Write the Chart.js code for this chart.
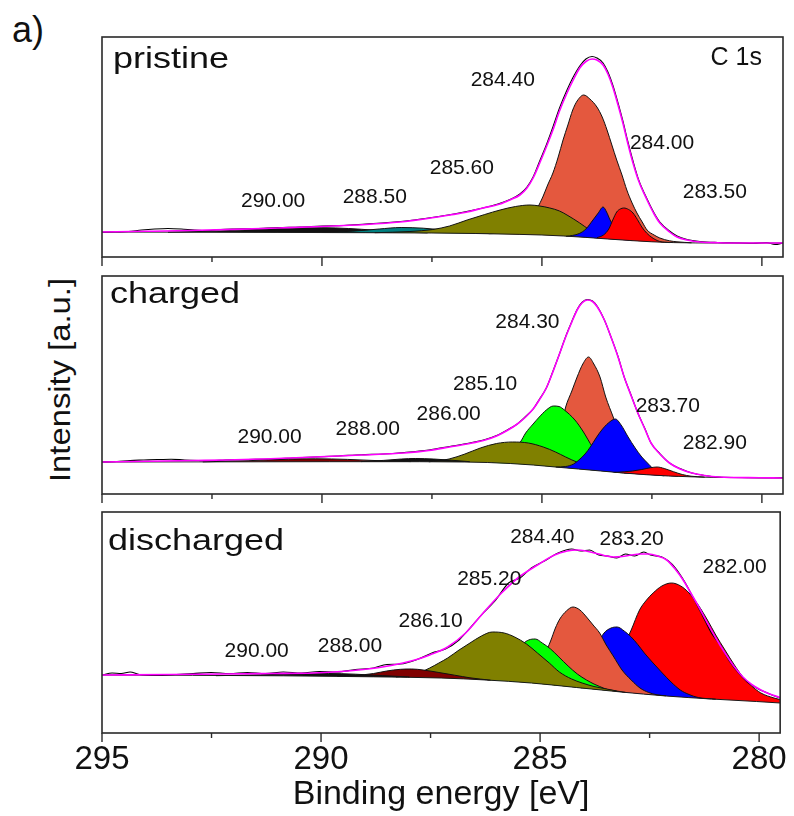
<!DOCTYPE html>
<html>
<head>
<meta charset="utf-8">
<title>C 1s XPS</title>
<script src="https://cdn.jsdelivr.net/npm/chart.js@4.4.1/dist/chart.umd.min.js"></script>
<style>
  body { margin: 0; background: #fff; }
  #wrap { position: relative; width: 794px; height: 816px; font-family: "Liberation Sans", Arial, sans-serif; color: #111; }
  canvas { position: absolute; left: 0; }
  .txt { position: absolute; white-space: nowrap; line-height: 1; }
  #tag { left: 12px; top: 12px; font-size: 36px; }
  #ylab { left: 60px; top: 380px; font-size: 29px; transform: translate(-50%, -50%) rotate(-90deg) scaleX(1.13); }
</style>
</head>
<body>
<div id="wrap">
  <div class="txt" id="tag">a)</div>
  <div class="txt" id="ylab">Intensity [a.u.]</div>
  <canvas id="c1" width="794" height="268" style="top:0px"></canvas>
  <canvas id="c2" width="794" height="236" style="top:268px"></canvas>
  <canvas id="c3" width="794" height="312" style="top:504px"></canvas>
</div>
<script>
// binding energy axis
const energyMin = 279.52;
const energyMax = 295;
const tickValues = [295, 292.5, 290, 287.5, 285, 282.5, 280];

// ---------- pristine: [binding energy eV, intensity a.u.] ----------
const pristineBackground = [[295, 25], [291, 24.6], [289, 24.3], [287.5, 24], [286.5, 23.5], [285.5, 22.6], [285, 22], [284.5, 21], [284, 19.6], [283.5, 18], [283, 16.5], [282.5, 15.2], [282, 14.4], [281, 14], [279.52, 14]];
const pristineRaw = [[295, 24.5], [294.7, 25], [294.4, 25.5], [294.1, 27], [293.8, 28], [293.5, 28.5], [293.2, 28], [292.9, 27], [292.6, 26.5], [292.3, 27.5], [292, 28], [291.5, 28.5], [291, 29.5], [290.5, 30], [290, 31], [289.5, 31.5], [289, 33], [288.5, 34.5], [288, 36.5], [287.5, 39.5], [287, 43], [286.5, 47.5], [286, 53], [285.7, 58], [285.5, 63], [285.34, 70], [285.2, 80], [285.05, 96], [284.9, 112], [284.75, 130], [284.6, 149], [284.43, 167], [284.3, 179], [284.14, 191], [284, 198], [283.86, 200.5], [283.75, 199], [283.61, 194], [283.5, 185], [283.39, 172], [283.27, 154], [283.16, 136], [283.05, 116], [282.93, 96], [282.8, 77], [282.61, 58], [282.45, 44], [282.32, 35], [282.1, 26], [281.93, 21], [281.7, 17.5], [281.41, 15.5], [281, 14.5], [280.5, 14], [280.2, 13.5], [279.9, 14.5], [279.7, 12.5], [279.52, 14]];
const pristineFit = [[295, 25], [294, 25.7], [293, 26.5], [292, 27.6], [291, 29], [290, 30.5], [289, 32.5], [288.23, 35], [287.6, 38.5], [287.09, 42], [286.7, 45], [286.34, 49], [285.95, 53], [285.73, 57], [285.5, 62], [285.34, 69], [285.2, 79], [285.05, 94], [284.9, 110], [284.75, 127], [284.6, 146], [284.43, 164], [284.3, 176], [284.14, 189], [284, 195.5], [283.86, 198], [283.75, 197], [283.61, 192], [283.5, 183], [283.39, 170], [283.27, 152], [283.16, 134], [283.05, 114], [282.93, 94], [282.8, 76], [282.61, 57], [282.45, 43], [282.32, 34], [282.1, 25], [281.93, 20], [281.7, 17], [281.41, 15], [281, 14.3], [280, 14], [279.52, 14]];
const pristine2900 = [[293.5, 24.8], [292.5, 25.8], [291.5, 27.5], [290.6, 29], [290, 29.3], [289.4, 28.5], [288.8, 26.8], [288.2, 25], [287.6, 24.1]];
const pristine2885 = [[290, 24.5], [289.3, 25.8], [288.7, 28], [288.2, 29.5], [287.7, 28.8], [287.2, 26.8], [286.6, 24.5], [286.2, 23.4]];
const pristine2856 = [[288.8, 24.3], [288, 25.5], [287.48, 27.5], [287.1, 31], [286.7, 37], [286.3, 42.5], [285.95, 47], [285.6, 50.5], [285.27, 52], [285.05, 51], [284.82, 49], [284.6, 46], [284.43, 42], [284.14, 34], [283.91, 27], [283.7, 22.5], [283.52, 19.5], [283.3, 17.6]];
const pristine2844 = [[286.2, 23.3], [285.73, 24.5], [285.5, 27], [285.34, 32], [285.2, 41], [285.09, 50], [284.98, 60], [284.87, 72], [284.75, 84], [284.63, 100], [284.52, 117], [284.41, 132], [284.3, 147], [284.2, 156], [284.05, 162], [283.91, 158], [283.75, 150], [283.63, 140], [283.52, 127], [283.41, 112], [283.3, 97], [283.18, 82], [283.07, 67], [282.95, 54], [282.84, 44], [282.72, 35], [282.61, 27], [282.45, 22], [282.32, 19], [282.1, 16.2], [281.93, 15.2], [281.6, 14.2]];
const pristine2840 = [[284.45, 20.7], [284.3, 21.6], [284.15, 23.5], [284, 28], [283.84, 37], [283.72, 44], [283.61, 50], [283.53, 45], [283.45, 37], [283.36, 30], [283.27, 24], [283.1, 18.5], [282.95, 16.3]];
const pristine2835 = [[283.75, 19.3], [283.6, 22], [283.48, 28], [283.39, 37], [283.3, 45], [283.22, 48], [283.14, 49], [283.03, 47.5], [282.93, 44], [282.83, 37.5], [282.73, 30], [282.62, 24], [282.5, 19.5], [282.32, 15.5], [282.1, 14.4]];
const pristineLabels = ['290.00', '288.50', '285.60', '284.40', '284.00', '283.50'];

// ---------- charged ----------
const chargedBackground = [[295, 32], [289.83, 32.3], [287.78, 32.3], [286.75, 32], [286.23, 31.5], [285.72, 30.5], [285.2, 29], [284.69, 27], [284.17, 25], [283.66, 23], [283.15, 21], [282.63, 19.3], [282.12, 18], [281.61, 17.2], [281.09, 16.6], [279.52, 16]];
const chargedRaw = [[295, 32], [294.66, 32.5], [294.36, 33.5], [294.05, 34], [293.74, 34.5], [293.43, 34.8], [293.12, 34], [292.81, 33.5], [292.51, 33.2], [292.2, 34], [291.68, 34.5], [291.17, 35], [290.66, 36], [290.16, 37], [289.63, 38], [289.11, 39.3], [288.6, 40], [288.13, 41.5], [287.57, 44], [287.1, 47.5], [286.64, 51], [286.29, 54.5], [286.03, 58.5], [285.77, 64.5], [285.56, 70], [285.37, 77.5], [285.2, 85], [285.06, 94.5], [284.9, 106], [284.76, 121.5], [284.61, 139], [284.46, 157.5], [284.32, 172.5], [284.2, 184.5], [284.09, 191.5], [283.97, 194.5], [283.85, 193], [283.74, 187.5], [283.58, 174], [283.43, 157], [283.27, 137.5], [283.13, 117], [282.97, 98.5], [282.82, 81], [282.66, 65.5], [282.52, 51], [282.32, 40.5], [282.1, 31], [281.86, 25.5], [281.59, 21], [281.3, 18.5], [280.98, 17], [280.47, 16.5], [280.06, 16.3], [279.52, 16.2]];
const chargedFit = [[295, 32], [293.95, 32.8], [292.92, 33.5], [292.18, 34], [291.17, 35.3], [290.16, 37], [289.11, 39], [288.13, 41], [287.57, 43.5], [287.1, 47], [286.64, 50.5], [286.29, 54], [286.03, 58], [285.77, 64], [285.56, 70], [285.37, 77], [285.2, 85], [285.06, 94], [284.9, 106], [284.76, 121], [284.61, 139], [284.46, 157], [284.32, 172], [284.2, 184], [284.09, 191], [283.97, 194], [283.85, 192.5], [283.74, 187], [283.58, 174], [283.43, 157], [283.27, 137], [283.13, 117], [282.97, 98], [282.82, 81], [282.66, 65], [282.52, 51], [282.32, 40], [282.1, 31], [281.86, 25], [281.59, 21], [281.3, 18.5], [280.98, 17], [280.06, 16.3], [279.52, 16]];
const charged2900 = [[292.71, 32.1], [291.68, 33.3], [290.76, 34.8], [290.14, 35.2], [289.42, 34.6], [288.7, 33.3], [287.98, 32.4]];
const charged2880 = [[289.11, 32.4], [288.6, 33.6], [288.19, 35], [287.88, 35.5], [287.47, 35], [287.06, 33.8], [286.64, 32.3]];
const charged2860 = [[287.57, 32.2], [287.11, 35], [286.75, 40], [286.4, 46], [286.03, 50.5], [285.67, 52], [285.31, 51], [284.97, 47], [284.69, 42], [284.46, 37], [284.18, 31.5], [283.85, 27], [283.56, 23.5], [283.24, 21.5], [282.94, 20.5]];
const charged2851 = [[286.13, 31.6], [285.93, 34], [285.79, 39], [285.62, 46], [285.49, 52], [285.37, 61], [285.2, 70], [285.06, 77], [284.9, 84], [284.74, 88], [284.61, 87.5], [284.49, 84], [284.25, 74], [284.07, 63], [283.85, 47], [283.64, 36], [283.43, 27], [283.25, 23], [283.1, 21]];
const charged2843 = [[285.41, 29.8], [285.1, 31.5], [284.9, 36], [284.67, 52], [284.56, 68], [284.46, 87], [284.32, 103], [284.2, 117], [284.07, 130], [283.94, 137], [283.82, 130], [283.68, 117], [283.55, 97], [283.38, 77], [283.25, 61], [283.13, 47], [282.97, 35], [282.82, 27], [282.63, 22], [282.52, 20], [282.22, 18.2]];
const charged2837 = [[284.69, 27], [284.46, 27.5], [284.28, 30], [284.16, 34], [284.02, 40], [283.9, 47], [283.77, 56], [283.64, 64], [283.49, 71], [283.33, 75], [283.2, 69], [283.04, 57], [282.88, 46], [282.73, 37], [282.6, 31], [282.49, 26], [282.35, 22], [282.21, 19.5], [281.91, 17.7]];
const charged2829 = [[283.35, 21.6], [283.13, 22.2], [282.94, 23], [282.73, 24.5], [282.53, 26.3], [282.38, 27], [282.22, 25.5], [282.01, 22.3], [281.81, 19.5], [281.61, 17.8], [281.3, 16.9]];
const chargedLabels = ['290.00', '288.00', '286.00', '285.10', '284.30', '283.70', '282.90'];

// ---------- discharged ----------
const dischargedBackground = [[295, 58], [290.86, 57.2], [288.8, 56.2], [287.26, 55], [286.23, 53], [285.2, 50], [284.17, 45.5], [283.15, 41], [282.12, 37], [281.09, 34], [280.06, 31.5], [279.52, 30]];
const dischargedRaw = [[295, 58], [294.77, 60], [294.56, 59.5], [294.36, 61], [294.15, 58.5], [293.74, 57.5], [293.33, 58.5], [292.92, 59.5], [292.51, 60.5], [292.09, 59.5], [291.68, 60.5], [291.27, 59.5], [290.86, 61], [290.45, 60], [290.04, 61.5], [289.63, 61], [289.22, 63.5], [288.8, 65], [288.5, 68.5], [288.19, 69], [287.78, 74], [287.47, 80], [287.16, 84], [286.85, 93], [286.64, 103], [286.34, 118], [286.03, 132], [285.72, 150], [285.46, 155], [285.2, 165], [284.9, 172], [284.59, 180], [284.28, 184], [284.07, 182], [283.87, 183], [283.66, 178], [283.46, 177], [283.25, 175], [283.05, 179], [282.84, 177], [282.63, 181], [282.48, 178], [282.22, 176], [282.07, 172], [281.91, 165], [281.71, 152], [281.5, 135], [281.3, 118], [281.09, 100], [280.89, 88], [280.68, 72], [280.47, 60], [280.27, 51], [280.06, 45], [279.76, 39], [279.52, 35]];
const dischargedFit = [[295, 58], [293.43, 58.5], [292.2, 59], [291.17, 59.5], [290.17, 60], [289.63, 61.2], [289.15, 63], [288.6, 66], [288.13, 70], [287.78, 74], [287.52, 78], [287.11, 86], [286.7, 100], [286.3, 120], [285.88, 140], [285.48, 156], [285.06, 168], [284.67, 178], [284.38, 182], [284.16, 183], [283.95, 182], [283.75, 180], [283.54, 177.5], [283.33, 176], [283.13, 176.5], [282.92, 178], [282.72, 179], [282.52, 179], [282.32, 177], [282.11, 173], [281.9, 163], [281.75, 154], [281.6, 143], [281.39, 127], [281.18, 110], [280.99, 95], [280.78, 80], [280.58, 67], [280.37, 56], [280.17, 48.5], [279.96, 43], [279.76, 39], [279.52, 35.5]];
const discharged2900 = [[292.4, 57.3], [291.38, 58.2], [290.45, 59.2], [289.83, 59.5], [289.22, 58.8], [288.6, 57.4], [287.98, 56]];
const discharged2880 = [[289.63, 56.6], [289.22, 57.5], [288.8, 59.5], [288.5, 62], [288.19, 63.7], [287.93, 64], [287.67, 63], [287.31, 60.5], [286.95, 57.8], [286.6, 55.2], [286.13, 52.8]];
const discharged2861 = [[288.29, 56], [287.93, 58], [287.72, 61], [287.52, 65], [287.31, 70], [287.11, 75], [286.85, 83], [286.6, 90], [286.34, 97], [286.09, 101], [285.82, 100], [285.58, 96], [285.31, 89], [285.06, 80], [284.79, 70], [284.56, 61], [284.28, 54], [284.04, 50], [283.77, 46.5], [283.54, 44.5], [283.25, 42], [283.05, 40.6]];
const discharged2852 = [[286.18, 53.2], [285.93, 57], [285.72, 63], [285.56, 77], [285.39, 89], [285.26, 93], [285.11, 94], [284.95, 90], [284.76, 84], [284.57, 76], [284.36, 67], [284.15, 59], [283.94, 53], [283.77, 49], [283.64, 46.5], [283.46, 43.5], [283.25, 42]];
const discharged2844 = [[285.62, 51.5], [285.41, 54], [285.2, 59], [285.06, 66], [284.9, 78], [284.76, 92], [284.65, 105], [284.55, 114], [284.4, 122], [284.25, 126], [284.09, 123], [283.94, 116], [283.79, 108], [283.64, 100], [283.49, 88], [283.33, 77], [283.13, 63], [282.92, 53], [282.72, 45], [282.52, 40.5], [282.33, 38.2], [282.12, 37.2]];
const discharged2832 = [[284.69, 48], [284.43, 48.5], [284.25, 50.5], [284.05, 60], [283.85, 76], [283.69, 89], [283.54, 100], [283.38, 105], [283.24, 106], [283.08, 102], [282.92, 96], [282.77, 88.5], [282.62, 80], [282.42, 70], [282.21, 60], [282.01, 51], [281.8, 43], [281.6, 38.5], [281.39, 35.5], [280.99, 33.8]];
const discharged2820 = [[284.07, 45], [283.87, 47], [283.64, 52], [283.44, 62], [283.24, 74], [283.08, 88], [282.92, 103], [282.73, 123], [282.57, 133], [282.42, 140], [282.22, 147], [282, 150], [281.79, 147], [281.6, 140], [281.39, 128], [281.18, 113], [280.99, 98], [280.78, 83], [280.58, 69], [280.37, 56], [280.17, 47], [279.96, 40], [279.66, 35], [279.52, 33.4]];
const dischargedLabels = ['290.00', '288.00', '286.10', '285.20', '284.40', '283.20', '282.00'];

// where the peak labels sit (energy, intensity) -- layout only
const pristineLabelSpots = [[291.11, 56], [288.8, 60], [286.82, 89], [285.89, 177], [282.27, 114], [281.07, 65]];
const chargedLabelSpots = [[291.19, 57], [288.96, 65], [287.12, 80], [286.29, 110], [285.33, 172], [282.14, 88], [281.07, 51]];
const dischargedLabelSpots = [[291.47, 82], [289.34, 87], [287.5, 112], [286.16, 154], [284.95, 196], [282.91, 194], [280.56, 166]];

const family = '"Liberation Sans", Arial, Helvetica, sans-serif';

function makeSet(pairs, style) {
  return Object.assign({
    data: pairs.map(p => ({ x: p[0], y: p[1] })),
    showLine: true,
    pointRadius: 0,
    borderWidth: 1,
    borderColor: '#111',
    cubicInterpolationMode: 'monotone',
    fill: false
  }, style);
}

// box around plot + outward ticks (long at 5 eV, short between)
const framePlugin = {
  id: 'frame',
  afterDatasetsDraw(chart) {
    const { ctx, chartArea: a } = chart;
    const x = chart.scales.x;
    ctx.save();
    ctx.strokeStyle = '#2a2a2a';
    ctx.lineWidth = 1.6;
    ctx.strokeRect(a.left, a.top, a.right - a.left, a.bottom - a.top);
    ctx.lineWidth = 1.4;
    tickValues.forEach(v => {
      const px = x.getPixelForValue(v);
      const len = v % 5 === 0 ? 9 : 5;
      ctx.beginPath();
      ctx.moveTo(px, a.bottom);
      ctx.lineTo(px, a.bottom + len);
      ctx.stroke();
    });
    ctx.restore();
  }
};

function textPlugin(p) {
  return {
    id: 'panelText',
    afterDraw(chart) {
      const { ctx, chartArea: a } = chart;
      const x = chart.scales.x, y = chart.scales.y;
      ctx.save();
      ctx.fillStyle = '#111';
      ctx.textAlign = 'left';
      ctx.textBaseline = 'alphabetic';
      // panel name, a little wide like the source figure
      ctx.save();
      ctx.translate(a.left + p.nameDx, a.top + p.nameDy);
      ctx.scale(1.2, 1);
      ctx.font = '30px ' + family;
      ctx.fillText(p.name, 0, 0);
      ctx.restore();
      if (p.corner) {
        ctx.font = '25px ' + family;
        ctx.textAlign = 'right';
        ctx.fillText(p.corner, a.right - 21, a.top + 28);
      }
      ctx.font = '21px ' + family;
      ctx.textAlign = 'center';
      ctx.textBaseline = 'middle';
      p.labels.forEach((t, k) => {
        ctx.fillText(t, x.getPixelForValue(p.spots[k][0]), y.getPixelForValue(p.spots[k][1]));
      });
      ctx.restore();
    }
  };
}

function drawPanel(id, p) {
  const bg = makeSet(p.background, { borderColor: '#1a1a1a', borderWidth: 1 });
  const parts = p.parts.map(c => makeSet(c.data, { backgroundColor: c.color, fill: { target: 0 } }));
  const raw = makeSet(p.raw, { borderColor: '#000', borderWidth: 1.1 });
  const fit = makeSet(p.fit, { borderColor: '#ff00ff', borderWidth: 1.6 });
  const datasets = [bg].concat(parts, [raw, fit]);
  // drawing sequence: components bottom-up as listed, then background, raw, fit
  const seq = parts.concat([bg, raw, fit]);
  seq.forEach((d, k) => { d.order = seq.length - k; });

  new Chart(document.getElementById(id), {
    type: 'scatter',
    data: { datasets },
    options: {
      responsive: false,
      animation: false,
      events: [],
      layout: { padding: { left: 102, right: 11, top: p.padTop, bottom: p.padBottom } },
      plugins: { legend: { display: false }, tooltip: { enabled: false } },
      scales: {
        x: {
          type: 'linear',
          reverse: true,
          min: energyMin,
          max: energyMax,
          display: p.axis,
          grid: { display: false, drawTicks: false },
          border: { display: false },
          afterBuildTicks: ax => { ax.ticks = tickValues.map(v => ({ value: v })); },
          afterFit: ax => { if (p.axis) ax.height = p.axisHeight; },
          ticks: {
            padding: 7,
            maxRotation: 0,
            autoSkip: false,
            color: '#111',
            font: { size: 33, family },
            callback: v => (v % 5 === 0 ? String(v) : '')
          },
          title: {
            display: true,
            text: 'Binding energy [eV]',
            color: '#111',
            font: { size: 34, family },
            padding: { top: 0, bottom: 1 }
          }
        },
        y: { display: false, min: 0, max: p.yMax }
      }
    },
    plugins: [framePlugin, textPlugin(p)]
  });
}

drawPanel('c1', {
  background: pristineBackground, raw: pristineRaw, fit: pristineFit,
  parts: [
    { data: pristine2844, color: '#e4583e' },
    { data: pristine2900, color: '#111111' },
    { data: pristine2885, color: '#008080' },
    { data: pristine2856, color: '#808000' },
    { data: pristine2840, color: '#0000ff' },
    { data: pristine2835, color: '#ff0000' }
  ],
  labels: pristineLabels, spots: pristineLabelSpots,
  name: 'pristine', nameDx: 11, nameDy: 31, corner: 'C 1s',
  padTop: 37, padBottom: 11, yMax: 220, axis: false
});

drawPanel('c2', {
  background: chargedBackground, raw: chargedRaw, fit: chargedFit,
  parts: [
    { data: charged2843, color: '#e4583e' },
    { data: charged2851, color: '#00ff00' },
    { data: charged2860, color: '#808000' },
    { data: charged2837, color: '#0000ff' },
    { data: charged2829, color: '#ff0000' },
    { data: charged2900, color: '#800000' },
    { data: charged2880, color: '#111111' }
  ],
  labels: chargedLabels, spots: chargedLabelSpots,
  name: 'charged', nameDx: 8, nameDy: 27,
  padTop: 8, padBottom: 10, yMax: 218, axis: false
});

drawPanel('c3', {
  background: dischargedBackground, raw: dischargedRaw, fit: dischargedFit,
  parts: [
    { data: discharged2820, color: '#ff0000' },
    { data: discharged2832, color: '#0000ff' },
    { data: discharged2844, color: '#e4583e' },
    { data: discharged2852, color: '#00ff00' },
    { data: discharged2861, color: '#808000' },
    { data: discharged2880, color: '#800000' },
    { data: discharged2900, color: '#111111' }
  ],
  labels: dischargedLabels, spots: dischargedLabelSpots,
  name: 'discharged', nameDx: 6, nameDy: 38,
  padTop: 8, padBottom: 0, yMax: 221, axis: true, axisHeight: 83
});
</script>
</body>
</html>
